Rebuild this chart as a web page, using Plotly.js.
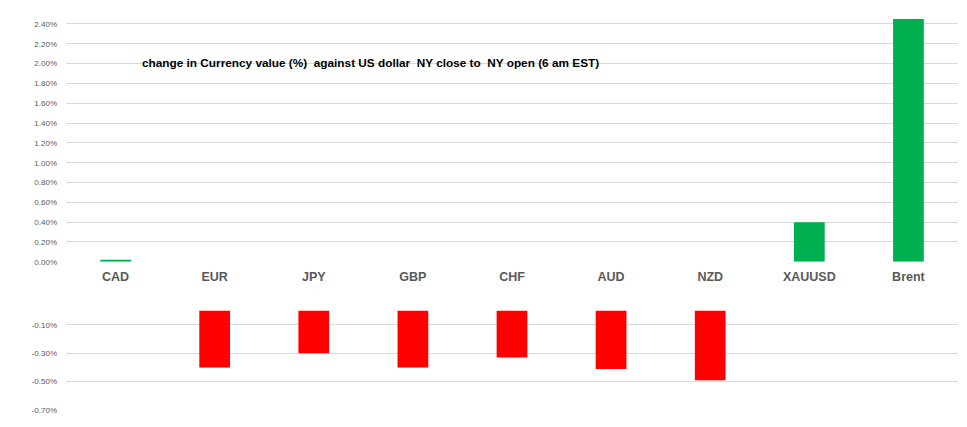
<!DOCTYPE html>
<html>
<head>
<meta charset="utf-8">
<script src="https://cdn.plot.ly/plotly-3.0.1.min.js"></script>
<style>html,body{margin:0;padding:0;background:#fff;}#chart{width:967px;height:427px;}</style>
</head>
<body>
<div id="chart"></div>
<script>
var categories = ["CAD","EUR","JPY","GBP","CHF","AUD","NZD","XAUUSD","Brent"];
var changePct = [0.02, -0.40, -0.30, -0.40, -0.33, -0.41, -0.49, 0.40, 2.45];
var topTicks = [0,0.2,0.4,0.6,0.8,1.0,1.2,1.4,1.6,1.8,2.0,2.2,2.4];
var bottomTicks = [-0.1,-0.3,-0.5,-0.7];
var chartTitle = "change in Currency value (%)\u00a0 against US dollar\u00a0 NY close to\u00a0 NY open (6 am EST)";

var posCats = [], posVals = [], negCats = [], negVals = [];
categories.forEach(function(c, i){
  if (changePct[i] >= 0) { posCats.push(c); posVals.push(changePct[i]); }
  else { negCats.push(c); negVals.push(changePct[i]); }
});
function pctLabel(v){ return v.toFixed(2) + "%"; }

var traces = [
  {type:"bar", x:posCats, y:posVals, xaxis:"x", yaxis:"y", marker:{color:"#00B050"}, hoverinfo:"x+y"},
  {type:"bar", x:negCats, y:negVals, xaxis:"x2", yaxis:"y2", marker:{color:"#FF0000"}, hoverinfo:"x+y"}
];

var tickFont = {family:"Liberation Sans, Arial, sans-serif", size:8, color:"#595959"};
var layout = {
  width:967, height:427,
  margin:{l:66, r:9, t:14, b:17},
  paper_bgcolor:"#fff", plot_bgcolor:"#fff",
  showlegend:false,
  bargap:0.69,
  xaxis:{domain:[0,1], anchor:"y", type:"category", categoryarray:categories, categoryorder:"array",
         range:[-0.5, 8.5], showgrid:false, showline:false, zeroline:false, ticks:"",
         tickfont:{family:"Liberation Sans, Arial, sans-serif", size:12.5, color:"#595959", weight:"bold"},
         ticklabelstandoff:6},
  yaxis:{domain:[0.3742,1], anchor:"x", range:[0,2.5], tickvals:topTicks, ticktext:topTicks.map(pctLabel),
         showgrid:true, gridcolor:"#D9D9D9", gridwidth:1, zeroline:false, showline:false, ticks:"",
         tickfont:tickFont, ticklabelstandoff:8},
  xaxis2:{domain:[0,1], anchor:"y2", type:"category", categoryarray:categories, categoryorder:"array",
          range:[-0.5, 8.5], showgrid:false, showline:false, zeroline:false, showticklabels:false, ticks:""},
  yaxis2:{domain:[0,0.2783], anchor:"x2", range:[-0.7, 0.0775], tickvals:bottomTicks, ticktext:bottomTicks.map(pctLabel),
          showgrid:true, gridcolor:"#D9D9D9", gridwidth:1, zeroline:false, showline:false, ticks:"",
          tickfont:tickFont, ticklabelstandoff:8},
  annotations:[{text:"<b>"+chartTitle+"</b>", xref:"paper", yref:"paper", x:0.341, y:0.877,
                xanchor:"center", yanchor:"middle", showarrow:false,
                font:{family:"Liberation Sans, Arial, sans-serif", size:11.8, color:"#000"}}]
};

Plotly.newPlot("chart", traces, layout, {displayModeBar:false, staticPlot:true});
</script>
</body>
</html>
